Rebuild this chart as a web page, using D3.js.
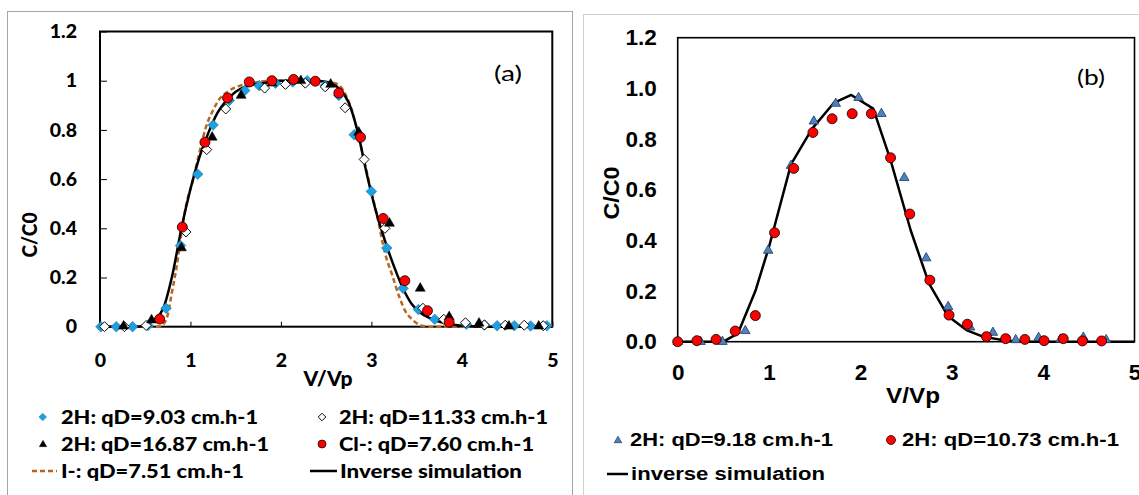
<!DOCTYPE html>
<html>
<head>
<meta charset="utf-8">
<script src="https://cdn.jsdelivr.net/npm/d3@7"></script>
<style>
    body { margin: 0; background: #fff; }
    svg { display: block; }
</style>
</head>
<body>
<div id="chart"></div>
<script>
// ---- panel (a) data ----
const aSimX = [0, 0.4, 0.5, 0.6, 0.7, 0.8, 0.9, 1.0, 1.1, 1.2, 1.3, 1.4, 1.5, 1.6, 1.8, 2.0, 2.2, 2.4, 2.55, 2.65, 2.75, 2.85, 2.95, 3.05, 3.15, 3.25, 3.35, 3.45, 3.55, 3.7, 3.85, 4.0, 4.3, 5];
const aSimY = [0, 0, 0.006, 0.028, 0.075, 0.21, 0.40, 0.56, 0.69, 0.79, 0.87, 0.92, 0.955, 0.975, 0.99, 1.0, 1.0, 1.0, 0.99, 0.965, 0.91, 0.79, 0.62, 0.47, 0.35, 0.245, 0.155, 0.09, 0.055, 0.027, 0.012, 0.004, 0, 0];

const aIodX = [0, 0.65, 0.70, 0.75, 0.79, 0.85, 0.9, 0.95, 1.03, 1.1, 1.17, 1.25, 1.31, 1.43, 1.55, 1.68, 1.9, 2.3, 2.6, 2.66, 2.72, 2.8, 2.88, 2.98, 3.07, 3.15, 3.23, 3.31, 3.38, 3.45, 3.55, 3.65, 5];
const aIodY = [0, 0, 0.01, 0.05, 0.13, 0.25, 0.38, 0.49, 0.60, 0.71, 0.81, 0.88, 0.92, 0.96, 0.98, 0.99, 1.0, 1.0, 0.99, 0.975, 0.94, 0.86, 0.74, 0.58, 0.44, 0.30, 0.21, 0.12, 0.06, 0.03, 0.005, 0, 0];

const aBlueX = [0.01, 0.18, 0.36, 0.53, 0.73, 0.89, 1.08, 1.25, 1.43, 1.6, 1.76, 1.94, 2.13, 2.29, 2.49, 2.64, 2.81, 3.0, 3.17, 3.35, 3.52, 3.70, 4.05, 4.25, 4.39, 4.58, 4.76, 4.94];
const aBlueY = [0, 0, 0, 0.005, 0.075, 0.33, 0.62, 0.82, 0.92, 0.96, 0.98, 0.99, 0.995, 1.0, 0.98, 0.94, 0.78, 0.55, 0.32, 0.156, 0.07, 0.03, 0.01, 0.007, 0.004, 0.004, 0.003, 0.004];

const aWhiteX = [0.05, 0.27, 0.51, 0.95, 1.18, 1.39, 1.82, 2.05, 2.27, 2.49, 2.71, 2.92, 3.15, 3.57, 3.8, 4.04, 4.25, 4.48, 4.69, 4.9];
const aWhiteY = [0, 0, 0.005, 0.385, 0.72, 0.885, 0.97, 0.985, 0.99, 0.975, 0.89, 0.68, 0.40, 0.075, 0.03, 0.016, 0.007, 0.006, 0.006, 0.004];

const aTriX = [0.26, 0.57, 0.9, 1.24, 1.56, 1.9, 2.22, 2.55, 2.86, 3.2, 3.54, 3.86, 4.19, 4.52, 4.85];
const aTriY = [0.002, 0.027, 0.32, 0.77, 0.94, 0.99, 1.0, 0.985, 0.79, 0.42, 0.156, 0.04, 0.014, 0.002, 0.002];

const aRedX = [0.66, 0.91, 1.16, 1.41, 1.65, 1.9, 2.14, 2.38, 2.64, 2.88, 3.13, 3.37, 3.62, 3.86];
const aRedY = [0.031, 0.405, 0.75, 0.93, 0.995, 1.0, 1.005, 0.998, 0.95, 0.77, 0.44, 0.187, 0.065, 0.018];

const aXTicks = [0, 1, 2, 3, 4, 5];
const aYTicks = [0, 0.2, 0.4, 0.6, 0.8, 1, 1.2];
const aYTickLabels = ["0", "0.2", "0.4", "0.6", "0.8", "1", "1.2"];
const aLegend = ["2H: qD=9.03 cm.h-1", "2H: qD=11.33 cm.h-1", "2H: qD=16.87 cm.h-1",
                 "Cl-: qD=7.60 cm.h-1", "I-: qD=7.51 cm.h-1", "Inverse simulation"];

// ---- panel (b) data ----
const bSimX = [0, 0.5, 0.66, 0.85, 1.0, 1.24, 1.47, 1.71, 1.9, 2.14, 2.33, 2.55, 2.75, 2.96, 3.16, 3.34, 3.6, 3.81, 5];
const bSimY = [0, 0, 0.033, 0.2, 0.375, 0.70, 0.84, 0.943, 0.974, 0.92, 0.717, 0.44, 0.23, 0.1, 0.046, 0.02, 0.004, 0, 0];

const bTriX = [0, 0.25, 0.49, 0.74, 0.99, 1.24, 1.49, 1.73, 1.98, 2.23, 2.48, 2.72, 2.96, 3.2, 3.45, 3.70, 3.95, 4.19, 4.44, 4.69];
const bTriY = [0, 0, 0, 0.043, 0.36, 0.695, 0.87, 0.94, 0.963, 0.90, 0.647, 0.33, 0.138, 0.057, 0.036, 0.007, 0.016, 0.009, 0.017, 0.007];

const bRedX = [0, 0.21, 0.42, 0.63, 0.85, 1.06, 1.27, 1.48, 1.69, 1.91, 2.12, 2.33, 2.54, 2.76, 2.97, 3.17, 3.38, 3.59, 3.80, 4.01, 4.22, 4.43, 4.64];
const bRedY = [0, 0.004, 0.009, 0.042, 0.103, 0.43, 0.684, 0.826, 0.88, 0.90, 0.90, 0.726, 0.504, 0.243, 0.105, 0.069, 0.02, 0.012, 0.009, 0.004, 0.012, 0.003, 0.003];

const bXTicks = [0, 1, 2, 3, 4, 5];
const bYTicks = [0, 0.2, 0.4, 0.6, 0.8, 1.0, 1.2];
const bLegend = ["2H: qD=9.18 cm.h-1", "2H: qD=10.73 cm.h-1", "inverse simulation"];

const calibri = "Lato, 'Open Sans', sans-serif";
const arial = "'Liberation Sans', Arial, sans-serif";

let svg = d3.select("#chart")
    .append("svg")
    .attr("width", 1139)
    .attr("height", 495);

// outer chart frames
svg.append("rect")
    .attr("x", 7.5).attr("y", 11.5)
    .attr("width", 565).attr("height", 500)
    .attr("fill", "none").attr("stroke", "#a6a6a6");
svg.append("rect")
    .attr("x", 583.5).attr("y", 14.5)
    .attr("width", 600).attr("height", 500)
    .attr("fill", "none").attr("stroke", "#d6d0c0");

function diamond(g, x, y, r, fill, stroke, sw) {
    g.append("path")
        .attr("d", d3.symbol(d3.symbolSquare, 2 * r * r)())
        .attr("transform", "translate(" + x + "," + y + ") rotate(45)")
        .attr("fill", fill).attr("stroke", stroke).attr("stroke-width", sw);
}

function triangle(g, x, y, side, fill, stroke, sw) {
    g.append("path")
        .attr("d", d3.symbol(d3.symbolTriangle, Math.sqrt(3) / 4 * side * side)())
        .attr("transform", "translate(" + x + "," + y + ")")
        .attr("fill", fill).attr("stroke", stroke).attr("stroke-width", sw);
}

function label(g, x, y, text, font, size, weight, len, anchor) {
    let t = g.append("text")
        .attr("x", x).attr("y", y).attr("dy", "0.36em")
        .attr("font-family", font).attr("font-size", size)
        .attr("font-weight", weight)
        .attr("text-anchor", anchor || "start")
        .text(text);
    if (len) t.attr("textLength", len).attr("lengthAdjust", "spacingAndGlyphs");
    return t;
}

// ================= panel (a) =================
let xa = d3.scaleLinear().domain([0, 5]).range([100, 552.3]);
let ya = d3.scaleLinear().domain([0, 1.2]).range([326.7, 31.5]);
let ga = svg.append("g");

let axA = ga.append("g")
    .attr("transform", "translate(" + xa(0) + ",0)")
    .call(d3.axisLeft(ya).tickValues(aYTicks)
        .tickFormat((d, i) => aYTickLabels[i])
        .tickSizeInner(-7).tickSizeOuter(0).tickPadding(23));
let axAx = ga.append("g")
    .attr("transform", "translate(0," + ya(0) + ")")
    .call(d3.axisBottom(xa).tickValues(aXTicks)
        .tickFormat(d3.format("d"))
        .tickSizeInner(-5).tickSizeOuter(0));
axAx.selectAll("text").attr("y", 33).attr("dy", "0.36em");
[axA, axAx].forEach(a => {
    a.select(".domain").remove();
    a.attr("font-family", calibri).attr("font-size", 19.5).attr("font-weight", "900");
    a.selectAll("text").attr("fill", "#000");
    a.selectAll("line").attr("stroke", "#000");
});

ga.append("rect")
    .attr("x", xa(0)).attr("y", ya(1.2))
    .attr("width", xa(5) - xa(0)).attr("height", ya(0) - ya(1.2))
    .attr("fill", "none").attr("stroke", "#000").attr("stroke-width", 2);

let lineA = d3.line()
    .x(d => xa(d[0]))
    .y(d => ya(d[1]))
    .curve(d3.curveMonotoneX);

ga.append("path")
    .datum(d3.zip(aIodX, aIodY))
    .attr("d", lineA)
    .attr("fill", "none").attr("stroke", "#b8661f")
    .attr("stroke-width", 2.5).attr("stroke-dasharray", "5,3");
ga.append("path")
    .datum(d3.zip(aSimX, aSimY))
    .attr("d", lineA)
    .attr("fill", "none").attr("stroke", "#000").attr("stroke-width", 2.5);

d3.zip(aBlueX, aBlueY).forEach(d => diamond(ga, xa(d[0]), ya(d[1]), 5.3, "#1f9fdf", "#1878b0", 0.6));
d3.zip(aWhiteX, aWhiteY).forEach(d => diamond(ga, xa(d[0]), ya(d[1]), 5, "#fff", "#000", 0.9));
d3.zip(aTriX, aTriY).forEach(d => triangle(ga, xa(d[0]), ya(d[1]), 10, "#000", "#000", 0.5));
ga.selectAll("circle.red")
    .data(d3.zip(aRedX, aRedY))
    .enter()
    .append("circle")
    .attr("cx", d => xa(d[0]))
    .attr("cy", d => ya(d[1]))
    .attr("r", 5)
    .attr("fill", "#ff0000").attr("stroke", "#000").attr("stroke-width", 0.8);

label(ga, 508, 73, "(a)", calibri, 21, "normal", 28, "middle");
label(ga, 0, 0, "C/C0", calibri, 21, "900", 45, "middle")
    .attr("transform", "translate(29.5,235) rotate(-90)");
label(ga, 328, 379, "V/Vp", calibri, 20, "900", 49, "middle");

// legend (a)
diamond(ga, 42.7, 417, 3.8, "#1f9fdf", "#1878b0", 0.5);
diamond(ga, 322, 417, 3.8, "#fff", "#000", 0.9);
triangle(ga, 43, 444.5, 7.5, "#000", "#000", 0.4);
ga.append("circle").attr("cx", 322).attr("cy", 444).attr("r", 4)
    .attr("fill", "#ff0000").attr("stroke", "#000").attr("stroke-width", 0.7);
ga.append("line").attr("x1", 32).attr("x2", 57).attr("y1", 471).attr("y2", 471)
    .attr("stroke", "#b8661f").attr("stroke-width", 2.5).attr("stroke-dasharray", "5,3");
ga.append("line").attr("x1", 310).attr("x2", 337).attr("y1", 471).attr("y2", 471)
    .attr("stroke", "#000").attr("stroke-width", 2.5);
label(ga, 61, 417, aLegend[0], calibri, 18.5, "900", 197);
label(ga, 339, 417, aLegend[1], calibri, 18.5, "900", 209);
label(ga, 61, 444, aLegend[2], calibri, 18.5, "900", 208);
label(ga, 339, 444, aLegend[3], calibri, 18.5, "900", 195);
label(ga, 61, 471, aLegend[4], calibri, 18.5, "900", 183);
label(ga, 340, 471, aLegend[5], calibri, 18.5, "900", 182);

// ================= panel (b) =================
let xb = d3.scaleLinear().domain([0, 5]).range([677.7, 1134.5]);
let yb = d3.scaleLinear().domain([0, 1.2]).range([341.7, 37.7]);
let gb = svg.append("g");

let axB = gb.append("g")
    .attr("transform", "translate(" + xb(0) + ",0)")
    .call(d3.axisLeft(yb).tickValues(bYTicks)
        .tickFormat(d3.format(".1f"))
        .tickSize(0).tickPadding(21));
let axBx = gb.append("g")
    .attr("transform", "translate(0," + yb(0) + ")")
    .call(d3.axisBottom(xb).tickValues(bXTicks)
        .tickFormat(d3.format("d"))
        .tickSize(0));
axBx.selectAll("text").attr("y", 30.5).attr("dy", "0.36em");
[axB, axBx].forEach(a => {
    a.select(".domain").remove();
    a.attr("font-family", arial).attr("font-size", 22.5).attr("font-weight", "bold");
    a.selectAll("text").attr("fill", "#000");
});

gb.append("rect")
    .attr("x", xb(0)).attr("y", yb(1.2))
    .attr("width", xb(5) - xb(0)).attr("height", yb(0) - yb(1.2))
    .attr("fill", "none").attr("stroke", "#000").attr("stroke-width", 1.6);

let lineB = d3.line()
    .x(d => xb(d[0]))
    .y(d => yb(d[1]));

gb.append("path")
    .datum(d3.zip(bSimX, bSimY))
    .attr("d", lineB)
    .attr("fill", "none").attr("stroke", "#000")
    .attr("stroke-width", 2.5).attr("stroke-linejoin", "round");

d3.zip(bTriX, bTriY).forEach(d => triangle(gb, xb(d[0]), yb(d[1]), 9.5, "#4f81bd", "#1f3864", 0.8));
gb.selectAll("circle.red")
    .data(d3.zip(bRedX, bRedY))
    .enter()
    .append("circle")
    .attr("cx", d => xb(d[0]))
    .attr("cy", d => yb(d[1]))
    .attr("r", 5)
    .attr("fill", "#ff0000").attr("stroke", "#000").attr("stroke-width", 0.8);

label(gb, 1091, 77, "(b)", calibri, 21, "normal", 28, "middle");
label(gb, 0, 0, "C/C0", arial, 22, "bold", 53, "middle")
    .attr("transform", "translate(611,193) rotate(-90)");
label(gb, 913, 395, "V/Vp", arial, 22, "bold", 54, "middle");

// legend (b)
triangle(gb, 618, 440.5, 7.5, "#4f81bd", "#1f3864", 0.7);
gb.append("circle").attr("cx", 891).attr("cy", 440).attr("r", 4.5)
    .attr("fill", "#ff0000").attr("stroke", "#000").attr("stroke-width", 0.7);
gb.append("line").attr("x1", 607).attr("x2", 628).attr("y1", 474).attr("y2", 474)
    .attr("stroke", "#000").attr("stroke-width", 2.5);
label(gb, 630, 440, bLegend[0], arial, 18, "bold", 203);
label(gb, 902, 440, bLegend[1], arial, 18, "bold", 217);
label(gb, 631, 474, bLegend[2], arial, 18, "bold", 194);
</script>
</body>
</html>
